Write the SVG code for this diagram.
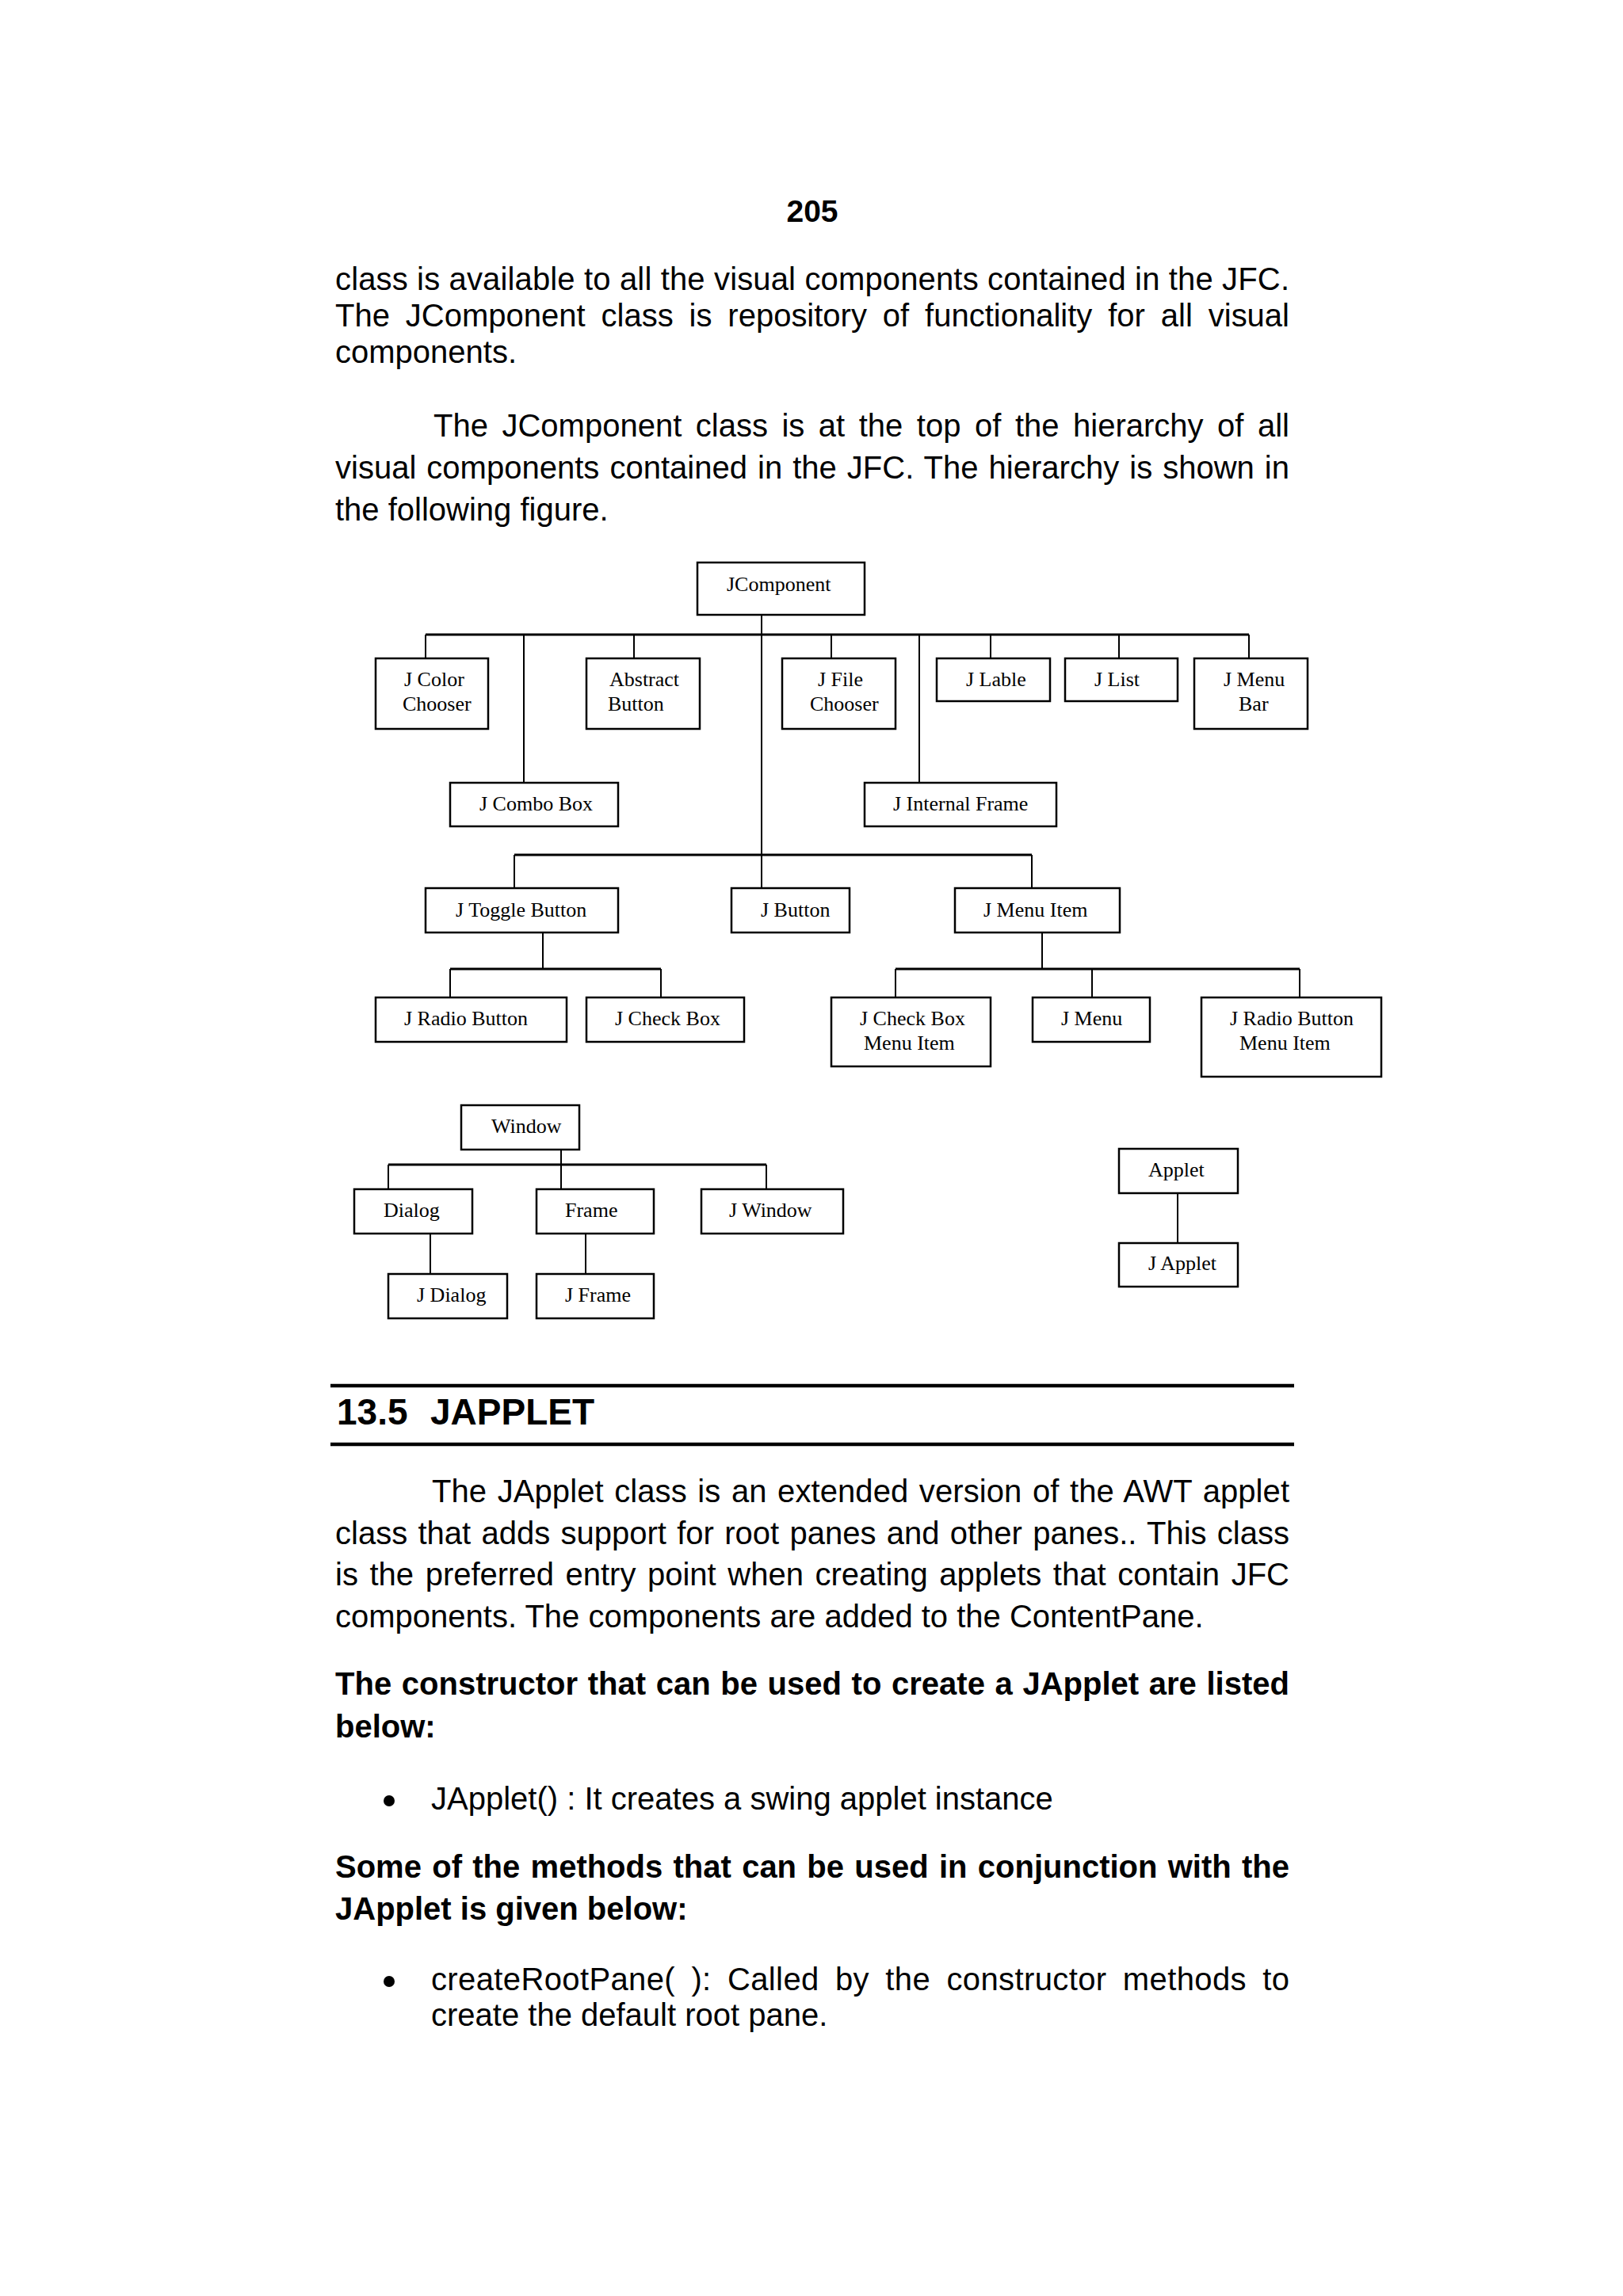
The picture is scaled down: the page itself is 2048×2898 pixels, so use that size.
<svg xmlns="http://www.w3.org/2000/svg" width="2048" height="2898" viewBox="0 0 2048 2898">
<style>
.box{fill:#fff;stroke:#000;stroke-width:2.5}
.lbl{font-family:"Liberation Serif","Times New Roman",serif;font-size:26px;fill:#000}
.body{font-family:"Liberation Sans",Arial,sans-serif;font-size:40px;fill:#000}
.bold{font-weight:bold}
.ln{fill:none;stroke:#000;stroke-width:2}
.bar{fill:none;stroke:#000;stroke-width:3}
.rule{stroke:#000;stroke-width:4.5}
</style>
<rect width="2048" height="2898" fill="#fff"/>

<g id="page-text">
<text class="body bold" x="1025" y="280" text-anchor="middle" style="font-size:39px">205</text>
<text class="body" x="423" y="366" textLength="1204" lengthAdjust="spacing">class is available to all the visual components contained in the JFC.</text>
<text class="body" x="423" y="412" word-spacing="8.8" textLength="1204" lengthAdjust="spacing">The JComponent class is repository of functionality for all visual</text>
<text class="body" x="423" y="458">components.</text>
<text class="body" x="547" y="551" word-spacing="6.4" textLength="1080" lengthAdjust="spacing">The JComponent class is at the top of the hierarchy of all</text>
<text class="body" x="423" y="604" word-spacing="1.9" textLength="1204" lengthAdjust="spacing">visual components contained in the JFC. The hierarchy is shown in</text>
<text class="body" x="423" y="657">the following figure.</text>

<line class="rule" x1="417" y1="1749" x2="1633" y2="1749"/>
<text class="body bold" x="425" y="1798" style="font-size:46px">13.5<tspan x="543">JAPPLET</tspan></text>
<line class="rule" x1="417" y1="1823" x2="1633" y2="1823"/>

<text class="body" x="545" y="1896" word-spacing="2.4" textLength="1082" lengthAdjust="spacing">The JApplet class is an extended version of the AWT applet</text>
<text class="body" x="423" y="1949" word-spacing="2.1" textLength="1204" lengthAdjust="spacing">class that adds support for root panes and other panes.. This class</text>
<text class="body" x="423" y="2001" word-spacing="3.5" textLength="1204" lengthAdjust="spacing">is the preferred entry point when creating applets that contain JFC</text>
<text class="body" x="423" y="2054">components. The components are added to the ContentPane.</text>

<text class="body bold" x="423" y="2139" word-spacing="1.5" textLength="1204" lengthAdjust="spacing">The constructor that can be used to create a JApplet are listed</text>
<text class="body bold" x="423" y="2193">below:</text>

<circle cx="491" cy="2273" r="7"/>
<text class="body" x="544" y="2284">JApplet() : It creates a swing applet instance</text>

<text class="body bold" x="423" y="2370" word-spacing="2.2" textLength="1204" lengthAdjust="spacing">Some of the methods that can be used in conjunction with the</text>
<text class="body bold" x="423" y="2423">JApplet is given below:</text>

<circle cx="491" cy="2501" r="7"/>
<text class="body" x="544" y="2512" word-spacing="8.9" textLength="1083" lengthAdjust="spacing">createRootPane( ): Called by the constructor methods to</text>
<text class="body" x="544" y="2557">create the default root pane.</text>
</g>

<g id="connectors">
<path class="ln" d="M961 776V1121"/>
<path class="bar" d="M537 801H1576"/>
<path class="ln" d="M537 801V831M800 801V831M1049 801V831M1250 801V831M1412 801V831M1576 801V831"/>
<path class="ln" d="M661 801V988M1160 801V988"/>
<path class="bar" d="M649 1079H1302"/>
<path class="ln" d="M649 1079V1121M1302 1079V1121"/>
<path class="ln" d="M685 1177V1223"/>
<path class="bar" d="M568 1223H834"/>
<path class="ln" d="M568 1223V1259M834 1223V1259"/>
<path class="ln" d="M1315 1177V1223"/>
<path class="bar" d="M1130 1223H1640"/>
<path class="ln" d="M1130 1223V1259M1378 1223V1259M1640 1223V1259"/>
<path class="ln" d="M708 1451V1470"/>
<path class="bar" d="M490 1470H967"/>
<path class="ln" d="M490 1470V1501M708 1470V1501M967 1470V1501"/>
<path class="ln" d="M543 1557V1608M739 1557V1608"/>
<path class="ln" d="M1486 1506V1569"/>
</g>

<g id="n-jcomponent"><rect class="box" x="880" y="710" width="211" height="66"/><text class="lbl" x="917" y="746">JComponent</text></g>
<g id="n-jcolorchooser"><rect class="box" x="474" y="831" width="142" height="89"/><text class="lbl" x="510" y="866">J Color</text><text class="lbl" x="508" y="897">Chooser</text></g>
<g id="n-abstractbutton"><rect class="box" x="740" y="831" width="143" height="89"/><text class="lbl" x="769" y="866">Abstract</text><text class="lbl" x="767" y="897">Button</text></g>
<g id="n-jfilechooser"><rect class="box" x="987" y="831" width="143" height="89"/><text class="lbl" x="1032" y="866">J File</text><text class="lbl" x="1022" y="897">Chooser</text></g>
<g id="n-jlable"><rect class="box" x="1182" y="831" width="143" height="54"/><text class="lbl" x="1219" y="866">J Lable</text></g>
<g id="n-jlist"><rect class="box" x="1344" y="831" width="142" height="54"/><text class="lbl" x="1381" y="866">J List</text></g>
<g id="n-jmenubar"><rect class="box" x="1507" y="831" width="143" height="89"/><text class="lbl" x="1544" y="866">J Menu</text><text class="lbl" x="1563" y="897">Bar</text></g>
<g id="n-jcombobox"><rect class="box" x="568" y="988" width="212" height="55"/><text class="lbl" x="605" y="1023">J Combo Box</text></g>
<g id="n-jinternalframe"><rect class="box" x="1091" y="988" width="242" height="55"/><text class="lbl" x="1127" y="1023">J Internal Frame</text></g>
<g id="n-jtogglebutton"><rect class="box" x="537" y="1121" width="243" height="56"/><text class="lbl" x="575" y="1157">J Toggle Button</text></g>
<g id="n-jbutton"><rect class="box" x="923" y="1121" width="149" height="56"/><text class="lbl" x="960" y="1157">J Button</text></g>
<g id="n-jmenuitem"><rect class="box" x="1205" y="1121" width="208" height="56"/><text class="lbl" x="1241" y="1157">J Menu Item</text></g>
<g id="n-jradiobutton"><rect class="box" x="474" y="1259" width="241" height="56"/><text class="lbl" x="510" y="1294">J Radio Button</text></g>
<g id="n-jcheckbox"><rect class="box" x="740" y="1259" width="199" height="56"/><text class="lbl" x="776" y="1294">J Check Box</text></g>
<g id="n-jcheckboxmenuitem"><rect class="box" x="1049" y="1259" width="201" height="87"/><text class="lbl" x="1085" y="1294">J Check Box</text><text class="lbl" x="1090" y="1325">Menu Item</text></g>
<g id="n-jmenu"><rect class="box" x="1303" y="1259" width="148" height="56"/><text class="lbl" x="1339" y="1294">J Menu</text></g>
<g id="n-jradiobuttonmenuitem"><rect class="box" x="1516" y="1259" width="227" height="100"/><text class="lbl" x="1552" y="1294">J Radio Button</text><text class="lbl" x="1564" y="1325">Menu Item</text></g>

<g id="n-window"><rect class="box" x="582" y="1395" width="149" height="56"/><text class="lbl" x="620" y="1430">Window</text></g>
<g id="n-dialog"><rect class="box" x="447" y="1501" width="149" height="56"/><text class="lbl" x="484" y="1536">Dialog</text></g>
<g id="n-frame"><rect class="box" x="677" y="1501" width="148" height="56"/><text class="lbl" x="713" y="1536">Frame</text></g>
<g id="n-jwindow"><rect class="box" x="885" y="1501" width="179" height="56"/><text class="lbl" x="920" y="1536">J Window</text></g>
<g id="n-jdialog"><rect class="box" x="490" y="1608" width="150" height="56"/><text class="lbl" x="526" y="1643">J Dialog</text></g>
<g id="n-jframe"><rect class="box" x="677" y="1608" width="148" height="56"/><text class="lbl" x="713" y="1643">J Frame</text></g>
<g id="n-applet"><rect class="box" x="1412" y="1450" width="150" height="56"/><text class="lbl" x="1449" y="1485">Applet</text></g>
<g id="n-japplet"><rect class="box" x="1412" y="1569" width="150" height="55"/><text class="lbl" x="1449" y="1603">J Applet</text></g>
</svg>
